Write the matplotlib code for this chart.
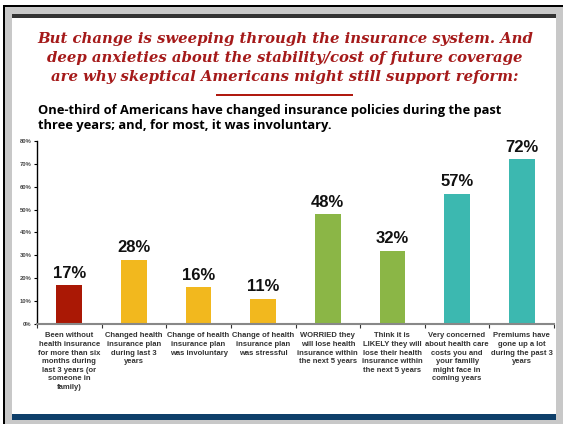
import numpy as np
import matplotlib
matplotlib.use('Agg')
import matplotlib.pyplot as plt
from matplotlib.patches import Rectangle

W, H = 563, 424

categories = ['Been without\nhealth insurance\nfor more than six\nmonths during\nlast 3 years (or\nsomeone in\nfamily)',
              'Changed health\ninsurance plan\nduring last 3\nyears',
              'Change of health\ninsurance plan\nwas involuntary',
              'Change of health\ninsurance plan\nwas stressful',
              'WORRIED they\nwill lose health\ninsurance within\nthe next 5 years',
              'Think it is\nLIKELY they will\nlose their health\ninsurance within\nthe next 5 years',
              'Very concerned\nabout health care\ncosts you and\nyour familly\nmight face in\ncoming years',
              'Premiums have\ngone up a lot\nduring the past 3\nyears']
values = [17, 28, 16, 11, 48, 32, 57, 72]
colors = ['#AA1805', '#F2B81E', '#F2B81E', '#F2B81E',
          '#8BB646', '#8BB646', '#3CB8B0', '#3CB8B0']
yticks = [0, 10, 20, 30, 40, 50, 60, 70, 80]

title = ('But change is sweeping through the insurance system. And\n'
         'deep anxieties about the stability/cost of future coverage\n'
         'are why skeptical Americans might still support reform:')
subtitle = ('One-third of Americans have changed insurance policies during the past\n'
            'three years; and, for most, it was involuntary.')


def px(x, y, w, h):
    # pixel box (top-left origin) -> figure fraction rectangle
    return (x / W, 1 - (y + h) / H), w / W, h / H


fig = plt.figure(figsize=(W / 100, H / 100), dpi=100)
fig.patch.set_facecolor('white')

# slide frame
for (x, y, w, h, c) in [(5, 6, 558, 418, '#C8C8C8'),
                        (3, 5, 2, 419, 'black'),
                        (3, 5, 560, 1.5, 'black'),
                        (12, 14, 544, 3.5, '#333333'),
                        (12, 17.5, 544, 396.5, 'white'),
                        (12, 414, 544, 6, '#0E3F6A')]:
    xy, ww, hh = px(x, y, w, h)
    fig.add_artist(Rectangle(xy, ww, hh, transform=fig.transFigure,
                             facecolor=c, edgecolor='none', zorder=0))

fig.text(285 / W, 1 - 32 / H, title, ha='center', va='top', color='#A51A1A',
         family='DejaVu Serif', style='italic', weight='bold', fontsize=10.7,
         linespacing=1.45)
xy, ww, hh = px(216, 94, 137, 2.2)
fig.add_artist(Rectangle(xy, ww, hh, transform=fig.transFigure,
                         facecolor='#B01A10', edgecolor='none'))

fig.text(38 / W, 1 - 104 / H, subtitle, ha='left', va='top', color='black',
         family='Open Sans', weight='bold', fontsize=9.3, linespacing=1.25)

ax = fig.add_axes([37 / W, 1 - 324 / H, 517 / W, 183 / H])
x = np.arange(len(values))
bars = ax.bar(x, values, width=0.4, color=colors, zorder=2)
for xi, v in zip(x, values):
    ax.text(xi, v + 2, f'{v}%', ha='center', va='bottom', fontsize=12,
            weight='bold', family='Liberation Sans', color='#111111')

ax.set_xlim(-0.5, len(values) - 0.5)
ax.set_ylim(0, 80)
ax.set_yticks(yticks)
ax.set_yticklabels([f'{t}%' for t in yticks], fontsize=4.2, weight='bold',
                   color='#444444', family='Liberation Sans')
ax.tick_params(axis='y', length=2, width=0.8, pad=2)

ax.set_xticks(np.arange(len(values) + 1) - 0.5, minor=True)
ax.set_xticks(x)
ax.set_xticklabels(categories, fontsize=5.5, weight='bold', color='#333333',
                   family='Liberation Sans', linespacing=1.32, va='top')
ax.tick_params(axis='x', which='major', length=0, pad=6)
ax.tick_params(axis='x', which='minor', length=3, width=0.8, color='#333333')

for s in ['top', 'right']:
    ax.spines[s].set_visible(False)
ax.spines['left'].set_color('black')
ax.spines['left'].set_linewidth(1)
ax.spines['bottom'].set_color('#888888')
ax.spines['bottom'].set_linewidth(1.5)
ax.set_facecolor('none')

fig.savefig('out.png', dpi=100)
